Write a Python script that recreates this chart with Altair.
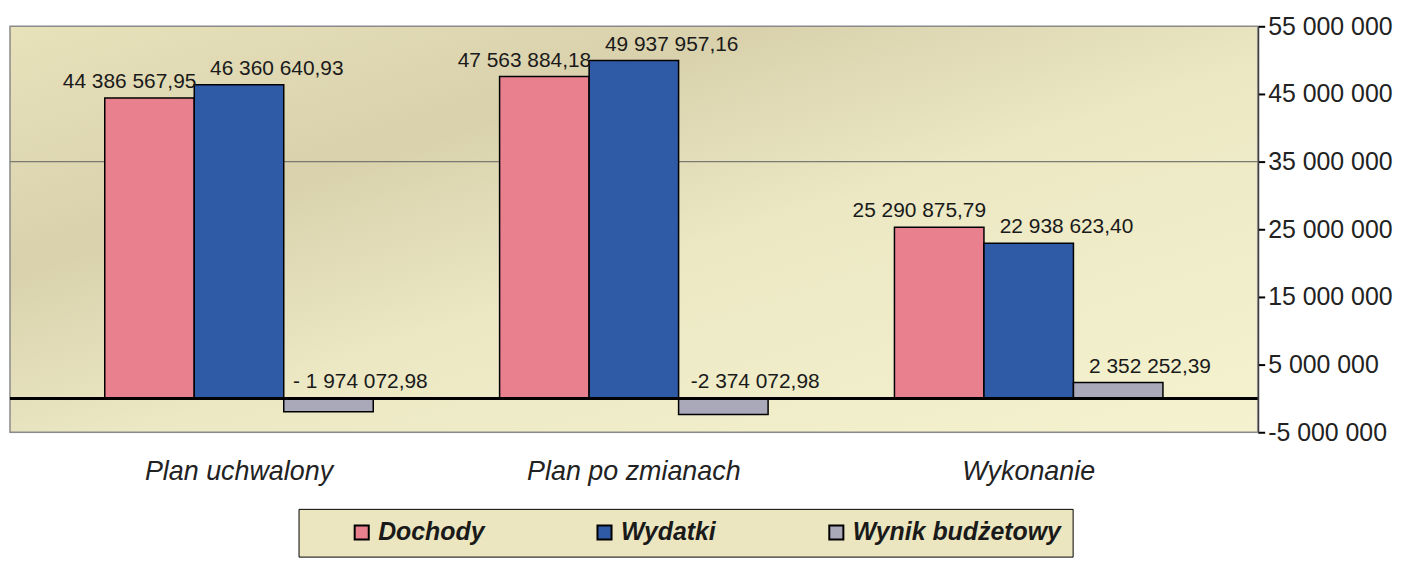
import altair as alt
import pandas as pd

categories = ["Plan uchwalony", "Plan po zmianach", "Wykonanie"]
series = ["Dochody", "Wydatki", "Wynik budżetowy"]
dochody = [44386567.95, 47563884.18, 25290875.79]
wydatki = [46360640.93, 49937957.16, 22938623.40]
wynik = [-1974072.98, -2374072.98, 2352252.39]
dochody_labels = ["44 386 567,95", "47 563 884,18", "25 290 875,79"]
wydatki_labels = ["46 360 640,93", "49 937 957,16", "22 938 623,40"]
wynik_labels = ["- 1 974 072,98", "-2 374 072,98", "2 352 252,39"]
y_ticks = [-5000000, 5000000, 15000000, 25000000, 35000000, 45000000, 55000000]
grid_values = [35000000]

rows = []
for vals, labs, s in [(dochody, dochody_labels, series[0]),
                      (wydatki, wydatki_labels, series[1]),
                      (wynik, wynik_labels, series[2])]:
    for c, v, l in zip(categories, vals, labs):
        rows.append({"kategoria": c, "seria": s, "wartosc": v, "etykieta": l})
df = pd.DataFrame(rows)

colors = ["#e8808d", "#2e5aa6", "#aaa9b9"]
FONT = "Liberation Sans"

x_enc = alt.X("kategoria:N", sort=categories, title=None,
              scale=alt.Scale(paddingInner=0.32, paddingOuter=0.24),
              axis=alt.Axis(orient="bottom", domain=False, ticks=False,
                            labelFontSize=27, labelFontStyle="italic",
                            labelColor="#222222", labelPadding=26,
                            labelFont=FONT, labelAngle=0, labelLimit=0))
xoff = alt.XOffset("seria:N", sort=series, scale=alt.Scale(paddingInner=0, paddingOuter=0))
y_scale = alt.Scale(domain=[-5000000, 55000000], nice=False, zero=False)

wall_gradient = alt.LinearGradient(
    gradient="linear", x1=0, y1=0, x2=1, y2=1,
    stops=[alt.GradientStop(offset=0, color="#e8e2bb"),
           alt.GradientStop(offset=0.3, color="#d8d1ac"),
           alt.GradientStop(offset=0.55, color="#ece8c4"),
           alt.GradientStop(offset=1, color="#f5f2cf")])

wall = alt.Chart(pd.DataFrame({"k": [0]})).mark_rect(
    color=wall_gradient, stroke="#8a8a8a", strokeWidth=1.5
).encode(
    x=alt.value(0), x2=alt.value("width"), y=alt.value(0), y2=alt.value("height")
)

bars = alt.Chart(df).mark_bar(stroke="black", strokeWidth=1.5).encode(
    x=x_enc,
    xOffset=xoff,
    y=alt.Y("wartosc:Q", scale=y_scale, title=None,
            axis=alt.Axis(orient="right", values=y_ticks, grid=False,
                          labelExpr="replace(replace(format(datum.value, ','), regexp(',', 'g'), ' '), '\u2212', '-')",
                          labelFontSize=25, labelFont=FONT, labelColor="#222222",
                          domainColor="black", domainWidth=2, tickColor="black",
                          tickSize=7, tickWidth=2, labelPadding=3)),
    color=alt.Color("seria:N", sort=series,
                    scale=alt.Scale(domain=series, range=colors),
                    legend=alt.Legend(orient="none", direction="horizontal",
                                      legendX=290, legendY=485, title=" ",
                                      titleOrient="left", titlePadding=40,
                                      titleFontSize=10,
                                      symbolType="square", symbolSize=200,
                                      symbolStrokeColor="black", symbolStrokeWidth=2,
                                      labelFontSize=25, labelFontStyle="italic",
                                      labelFontWeight="bold", labelFont=FONT,
                                      labelColor="#1a1a1a", labelOffset=4,
                                      columnPadding=108, padding=11,
                                      fillColor="#ebe6bf", strokeColor="black",
                                      labelLimit=400)),
)

grid = alt.Chart(pd.DataFrame({"v": grid_values})).mark_rule(color="#7a7a72", strokeWidth=1.2).encode(
    y=alt.Y("v:Q", scale=y_scale)
)
zero = alt.Chart(pd.DataFrame({"v": [0]})).mark_rule(color="black", strokeWidth=3).encode(
    y=alt.Y("v:Q", scale=y_scale)
)

label_dx = {"Dochody": -20, "Wydatki": 38, "Wynik budżetowy": 32}
texts = []
for s in series:
    t = alt.Chart(df).transform_filter(
        alt.datum.seria == s
    ).transform_calculate(
        ypos="max(datum.wartosc, 0)"
    ).mark_text(baseline="bottom", dy=-6, dx=label_dx[s], fontSize=21,
                font=FONT, color="#1a1a1a").encode(
        x=alt.X("kategoria:N", sort=categories),
        xOffset=xoff,
        y=alt.Y("ypos:Q", scale=y_scale),
        text="etykieta:N",
    )
    texts.append(t)

chart = alt.layer(wall, grid, bars, zero, *texts).properties(
    width=1254, height=408,
    padding={"left": 0, "top": 5, "right": 5, "bottom": 0},
).configure_view(
    stroke=None,
).configure(background="white")

chart.save("out.html", embed_options={"renderer": "svg", "actions": False})
